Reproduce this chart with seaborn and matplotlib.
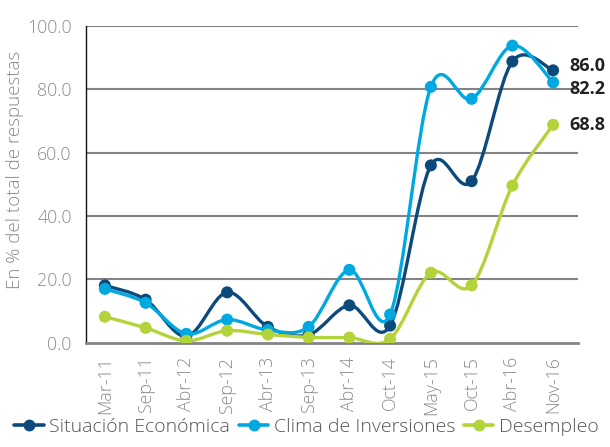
import numpy as np
import pandas as pd
import seaborn as sns
import matplotlib.pyplot as plt
from matplotlib.path import Path
from matplotlib.patches import PathPatch
from matplotlib.lines import Line2D

# survey rounds
periods = ['Mar-11', 'Sep-11', 'Abr-12', 'Sep-12', 'Abr-13', 'Sep-13',
           'Abr-14', 'Oct-14', 'May-15', 'Oct-15', 'Abr-16', 'Nov-16']

# % of answers
situacion = [18.1, 13.6, 2.0, 15.9, 5.0, 2.5, 11.8, 5.4, 56.0, 51.0, 88.8, 86.0]
clima = [17.0, 12.6, 2.8, 7.3, 4.0, 5.0, 23.0, 8.9, 80.8, 77.0, 93.8, 82.2]
desempleo = [8.2, 4.7, 0.6, 3.8, 2.6, 1.7, 1.6, 1.2, 22.1, 18.1, 49.6, 68.8]

series_names = ['Situación Económica', 'Clima de Inversiones', 'Desempleo']
colors = {'Situación Económica': '#0d4a7c',
          'Clima de Inversiones': '#00a8e1',
          'Desempleo': '#b3d33a'}

df = pd.DataFrame({'periodo': periods * 3,
                   'pos': list(range(len(periods))) * 3,
                   'valor': situacion + clima + desempleo,
                   'serie': [s for s in series_names for _ in periods]})

sns.set_style('white')
plt.rcParams['font.family'] = ['Open Sans', 'DejaVu Sans']

fig = plt.figure(figsize=(6.1, 4.47), dpi=100)
ax = fig.add_axes([0.1405, 0.2333, 0.807, 0.7085])


def smooth_path(xs, ys):
    # Excel-like smoothed line: cubic bezier segments through every point
    pts = np.column_stack([xs, ys]).astype(float)
    ext = np.vstack([pts[0], pts, pts[-1]])
    verts = [pts[0]]
    codes = [Path.MOVETO]
    for i in range(len(pts) - 1):
        p0, p1, p2, p3 = ext[i], ext[i + 1], ext[i + 2], ext[i + 3]
        verts += [p1 + (p2 - p0) / 6, p2 - (p3 - p1) / 6, p2]
        codes += [Path.CURVE4] * 3
    return Path(verts, codes)


for k, name in enumerate(series_names):
    sub = df[df['serie'] == name]
    patch = PathPatch(smooth_path(sub['pos'], sub['valor']), facecolor='none',
                      edgecolor=colors[name], lw=2.4, capstyle='round',
                      joinstyle='round', zorder=3 + k)
    ax.add_patch(patch)
    sns.scatterplot(data=sub, x='pos', y='valor', color=colors[name], s=75,
                    edgecolor='none', ax=ax, zorder=3.5 + k, legend=False)

# end labels (nudged apart so the two top ones don't collide)
end_offsets = [1.5, -2.0, 0.0]
for vals, off in zip([situacion, clima, desempleo], end_offsets):
    ax.text(11.4, vals[-1] + off, f'{vals[-1]:.1f}', fontsize=13, fontweight='bold',
            color='#222222', va='center', ha='left')

ax.set_xlim(-0.47, 11.61)
ax.set_ylim(0, 100)
ax.set_xticks(range(len(periods)))
ax.set_xticklabels(periods, rotation=90)
ax.set_yticks([0, 20, 40, 60, 80, 100])
ax.set_yticklabels([f'{v:.1f}' for v in [0, 20, 40, 60, 80, 100]])
ax.tick_params(axis='both', length=0, labelsize=12.8, labelcolor='#8a8a8a')
ax.tick_params(axis='y', pad=10)
ax.tick_params(axis='x', pad=10)
for lab in ax.get_xticklabels() + ax.get_yticklabels():
    lab.set_fontweight('light')

for v in [20, 40, 60, 80, 100]:
    ax.axhline(v, color='#848488', lw=1.5, zorder=1)

ax.set_xlabel('')
ax.set_ylabel('En % del total de respuestas', fontsize=13.5, color='#8a8a8a',
              fontweight='light')
ax.yaxis.set_label_coords(-0.125, 0.545)

sns.despine(ax=ax, top=True, right=True)
ax.spines['left'].set_color('#111111')
ax.spines['left'].set_linewidth(1.0)
ax.spines['bottom'].set_color('#848488')
ax.spines['bottom'].set_linewidth(2.0)

handles = [Line2D([0], [0], color=colors[n], lw=2.6, marker='o', markersize=7.5)
           for n in series_names]
leg = fig.legend(handles, series_names, loc='lower left', bbox_to_anchor=(-0.005, -0.015),
                 ncol=3, frameon=False, handlelength=1.5, handletextpad=0.3,
                 columnspacing=0.45, fontsize=14)
for t in leg.get_texts():
    t.set_color('#555555')
    t.set_fontweight('light')

fig.savefig('out.png', dpi=100)
